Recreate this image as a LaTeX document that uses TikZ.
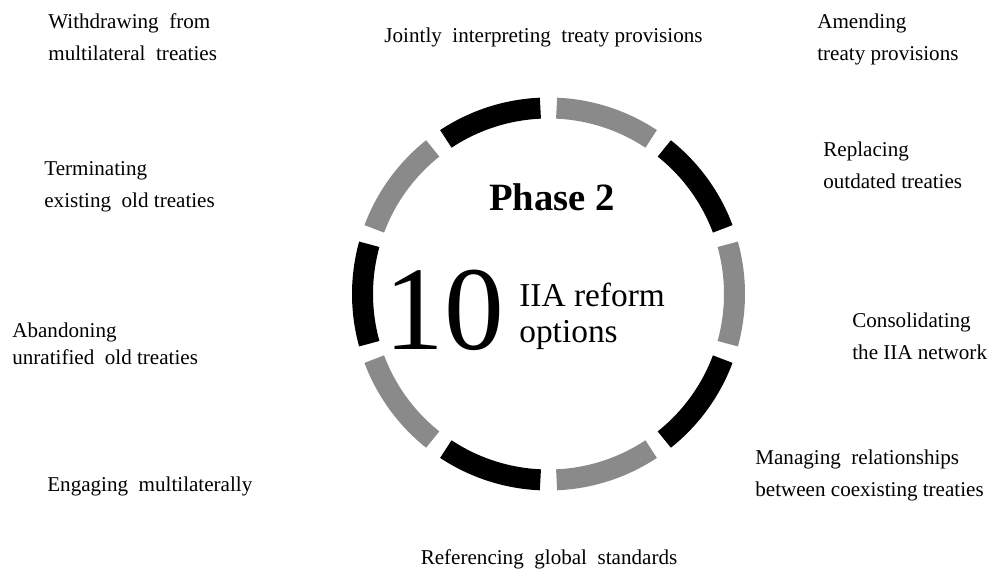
\documentclass[tikz,border=0pt]{standalone}
\usepackage{fontspec}
\setmainfont{Liberation Serif}
\usepackage{tikz}

\definecolor{segGray}{HTML}{8A8A8A}

\tikzset{
    seg/.style={line width=0.42cm},
    lbl/.style={inner sep=0pt, align=left, font=\fontsize{12}{18.2}\selectfont},
}

\begin{document}
\begin{tikzpicture}
        	\useasboundingbox (0,0) rectangle (19.86,11.38);
        	% Ring of ten segments:
        	\coordinate (c) at (10.97,5.50);
        	\draw[seg, segGray] ([shift={(87.5:3.72)}]c) arc[start angle=87.5, end angle=56.5, radius=3.72];
        	\draw[seg, black] ([shift={(51.5:3.72)}]c) arc[start angle=51.5, end angle=20.5, radius=3.72];
        	\draw[seg, segGray] ([shift={(15.5:3.72)}]c) arc[start angle=15.5, end angle=-15.5, radius=3.72];
        	\draw[seg, black] ([shift={(-20.5:3.72)}]c) arc[start angle=-20.5, end angle=-51.5, radius=3.72];
        	\draw[seg, segGray] ([shift={(-56.5:3.72)}]c) arc[start angle=-56.5, end angle=-87.5, radius=3.72];
        	\draw[seg, black] ([shift={(-92.5:3.72)}]c) arc[start angle=-92.5, end angle=-123.5, radius=3.72];
        	\draw[seg, segGray] ([shift={(-128.5:3.72)}]c) arc[start angle=-128.5, end angle=-159.5, radius=3.72];
        	\draw[seg, black] ([shift={(-164.5:3.72)}]c) arc[start angle=-164.5, end angle=-195.5, radius=3.72];
        	\draw[seg, segGray] ([shift={(-200.5:3.72)}]c) arc[start angle=-200.5, end angle=-231.5, radius=3.72];
        	\draw[seg, black] ([shift={(-236.5:3.72)}]c) arc[start angle=-236.5, end angle=-267.5, radius=3.72];
        	% Centre texts:
        	\node[inner sep=0pt, anchor=base, font=\fontsize{22}{24}\selectfont\bfseries] (phase) at (11.04,7.17) {Phase 2};
        	\node[inner sep=0pt, anchor=base west, font=\fontsize{68}{70}\selectfont] (num) at (7.68,4.38) {10};
        	\node[inner sep=0pt, anchor=base west, align=left, font=\fontsize{19}{20.5}\selectfont] (opts) at (10.38,4.52) {IIA reform\\options};
        	% Options round the ring (base = last line):
        	\node[lbl, anchor=base] (joint) at (10.87,10.53) {Jointly\ \ interpreting\ \ treaty provisions};
        	\node[lbl, anchor=base west] (amend) at (16.34,10.17) {Amending\\treaty provisions};
        	\node[lbl, anchor=base west] (replace) at (16.46,7.61) {Replacing\\outdated treaties};
        	\node[lbl, anchor=base west] (consol) at (17.04,4.19) {Consolidating\\the IIA network};
        	\node[lbl, anchor=base west] (manage) at (15.10,1.45) {Managing\ \ relationships\\between\ coexisting\ treaties};
        	\node[lbl, anchor=base] (refer) at (10.98,0.09) {Referencing\ \ global\ \ standards};
        	\node[lbl, anchor=base west] (engage) at (0.94,1.55) {Engaging\ \ multilaterally};
        	\node[lbl, anchor=base west, font=\fontsize{12}{15.4}\selectfont] (abandon) at (0.24,4.09) {Abandoning\\unratified\ \ old treaties};
        	\node[lbl, anchor=base west] (term) at (0.88,7.23) {Terminating\\existing\ \ old treaties};
        	\node[lbl, anchor=base west] (withdraw) at (0.96,10.17) {Withdrawing\ \ from\\multilateral\ \ treaties};
        \end{tikzpicture}
\end{document}
